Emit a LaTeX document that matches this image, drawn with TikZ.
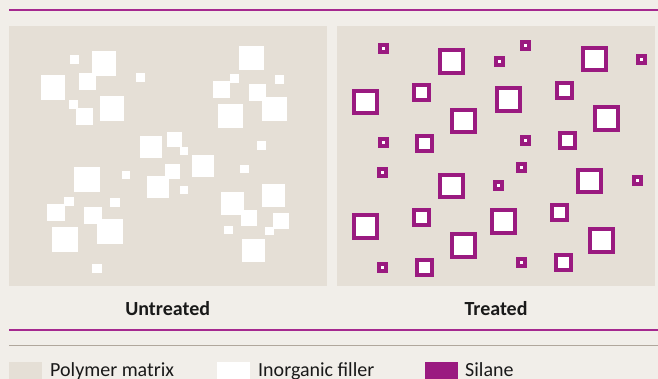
\documentclass[tikz,border=0pt]{standalone}
\usepackage{fontspec}
\setmainfont{Carlito}
\definecolor{bgpaper}{HTML}{F1EEE9}
\definecolor{matrixcol}{HTML}{E5DFD6}
\definecolor{silanecol}{HTML}{9A1A80}
\definecolor{rulepurple}{HTML}{A5288F}
\definecolor{rulegray}{HTML}{B0A79C}
% white filler particle: corners (x1,y1) and (x2,y2)
\newcommand{\filler}[4]{\fill[white] (#1,#2) rectangle (#3,#4);}
% silane-coated particle: top-left corner (x,y) and outer size
\newcommand{\coated}[3]{%
  \fill[silanecol] (#1,#2) rectangle ++(#3,#3);
  \fill[white] ($(#1,#2)+(4,4)$) rectangle ($(#1,#2)+(#3,#3)+(-4,-4)$);}
\usetikzlibrary{calc}
\tikzset{
  caption/.style={anchor=base, font=\fontsize{20}{24}\selectfont\bfseries, text=black!90},
  legendtext/.style={anchor=base west, font=\fontsize{20}{24}\selectfont, text=black!90, inner sep=0pt},
}
\begin{document}
\begin{tikzpicture}[x=1pt,y=-1pt]
  \useasboundingbox (0,0) rectangle (658,379);
  \fill[bgpaper] (0,0) rectangle (658,379);

  % rules
  \draw[rulepurple, line width=1.8pt] (9,10) -- (658,10);
  \draw[rulepurple, line width=1.5pt] (9,330) -- (658,330);
  \draw[rulegray, line width=1.5pt] (9,345.7) -- (658,345.7);

  % matrix panels
  \fill[matrixcol] (9,26) rectangle (327,285.7);
  \fill[matrixcol] (337,26) rectangle (655,285.7);

  % untreated: agglomerated filler
  \filler{70}{55}{79}{64}
  \filler{92}{51}{116}{76}
  \filler{41}{75}{65}{100}
  \filler{79}{73}{96}{90}
  \filler{136}{73}{145}{82}
  \filler{69}{100}{78}{109}
  \filler{76}{108}{93}{125}
  \filler{100}{96}{124}{121}
  \filler{239}{46}{264}{70}
  \filler{230}{74}{239}{83}
  \filler{275}{75}{284}{84}
  \filler{213}{81}{230}{98}
  \filler{249}{84}{266}{101}
  \filler{262}{97}{287}{121}
  \filler{218}{104}{243}{128}
  \filler{140}{136}{162}{158}
  \filler{167}{132}{182}{147}
  \filler{180}{147}{188}{155}
  \filler{257}{141}{266}{150}
  \filler{192}{155}{214}{177}
  \filler{165}{164}{180}{179}
  \filler{147}{176}{169}{198}
  \filler{180}{186}{188}{194}
  \filler{122}{171}{130}{179}
  \filler{240}{165}{249}{173}
  \filler{74}{167}{100}{192}
  \filler{64}{197}{74}{206}
  \filler{110}{198}{120}{207}
  \filler{47}{204}{65}{221}
  \filler{84}{207}{102}{224}
  \filler{97}{219}{123}{244}
  \filler{52}{227}{78}{252}
  \filler{92}{264}{102}{273}
  \filler{221}{192}{244}{215}
  \filler{262}{184}{285}{207}
  \filler{241}{210}{257}{226}
  \filler{273}{213}{289}{229}
  \filler{224}{226}{233}{234}
  \filler{265}{227}{274}{235}
  \filler{242}{239}{265}{262}

  % treated: dispersed, silane-coated filler
  \coated{377.7}{42.7}{11}
  \coated{493.7}{56}{11}
  \coated{520.3}{40}{11}
  \coated{636}{53.7}{11}
  \coated{377.7}{137}{11}
  \coated{520.3}{134.7}{11}
  \coated{377.3}{167}{11}
  \coated{516}{162}{11}
  \coated{493.3}{180.3}{11}
  \coated{631.7}{175.3}{11}
  \coated{377.3}{261.7}{11}
  \coated{515.7}{256.7}{11}
  \coated{412}{83}{19}
  \coated{554.7}{80.7}{19}
  \coated{415.3}{133.7}{19}
  \coated{558}{131}{19}
  \coated{411.7}{207.7}{19}
  \coated{550}{202.7}{19}
  \coated{415}{258}{19}
  \coated{553.7}{253}{19}
  \coated{438.3}{48.3}{26.5}
  \coated{581}{45.7}{26.5}
  \coated{352.3}{89}{26.5}
  \coated{495}{86.3}{26.5}
  \coated{450.3}{108}{26.5}
  \coated{593}{105.3}{26.5}
  \coated{438}{172.7}{26.5}
  \coated{576.3}{167.7}{26.5}
  \coated{352}{213.3}{26.5}
  \coated{490.3}{208.3}{26.5}
  \coated{450}{232.3}{26.5}
  \coated{588}{227.3}{26.5}

  % captions
  \node[caption] (untreated) at (167.7,315) {Untreated};
  \node[caption] (treated) at (496,315) {Treated};

  % legend
  \fill[matrixcol] (9,362) rectangle (42,381);
  \fill[white] (217,362) rectangle (250,381);
  \fill[silanecol] (425,362) rectangle (458,381);
  \node[legendtext] (polymer) at (50,376.7) {Polymer matrix};
  \node[legendtext] (inorganic) at (258,376.7) {Inorganic filler};
  \node[legendtext] (silane) at (465,376.7) {Silane};
\end{tikzpicture}
\end{document}
